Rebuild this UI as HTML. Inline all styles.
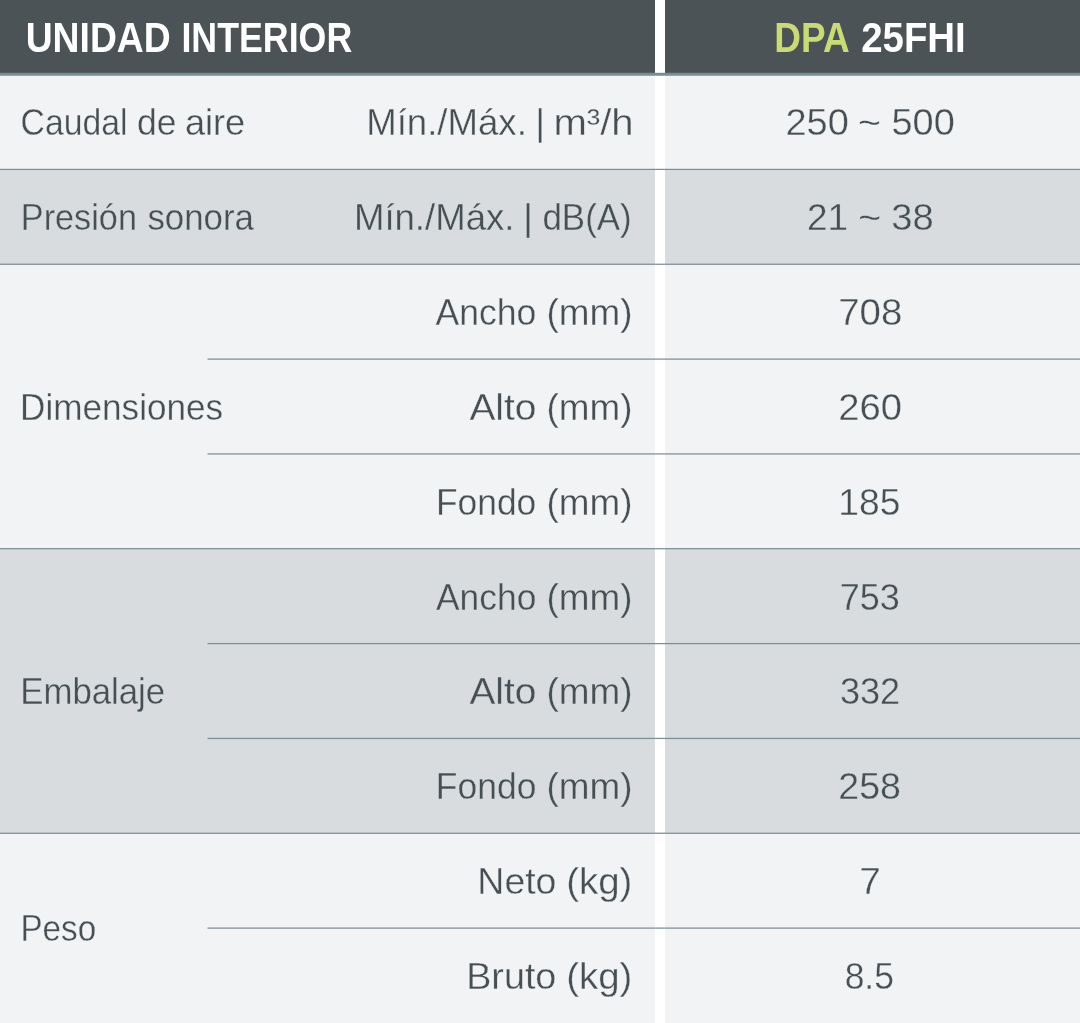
<!DOCTYPE html>
<html lang="es">
<head>
<meta charset="utf-8">
<title>Unidad interior DPA 25FHI</title>
<style>
html,body{margin:0;padding:0;background:#fff}
body{width:1080px;height:1023px;overflow:hidden}
svg{display:block}
text{font-family:"Liberation Sans",Arial,sans-serif;fill:#465054}
</style>
</head>
<body>
<svg width="1080" height="1023" viewBox="0 0 1080 1023">
<!-- backgrounds -->
<rect x="0" y="0" width="1080" height="1023" fill="#f2f3f5"/>
<rect x="0" y="169.4" width="1080" height="94.84" fill="#d8dcdf"/>
<rect x="0" y="548.7" width="1080" height="284.55" fill="#d8dcdf"/>
<rect x="655" y="0" width="10" height="1023" fill="#ffffff"/>
<rect x="0" y="0" width="655" height="73" fill="#4b5357"/>
<rect x="665" y="0" width="415" height="73" fill="#4b5357"/>
<rect x="0" y="72.8" width="1080" height="2.95" fill="#778d94"/>
<!-- row separators -->
<rect x="0" y="168.78" width="1080" height="1.25" fill="#7a8f97"/>
<rect x="0" y="263.62" width="1080" height="1.25" fill="#7a8f97"/>
<rect x="0" y="548.08" width="1080" height="1.25" fill="#7a8f97"/>
<rect x="0" y="832.63" width="1080" height="1.25" fill="#7a8f97"/>
<rect x="207.5" y="358.48" width="872.5" height="1.25" fill="#7a8f97"/>
<rect x="207.5" y="453.3" width="872.5" height="1.25" fill="#7a8f97"/>
<rect x="207.5" y="642.98" width="872.5" height="1.25" fill="#7a8f97"/>
<rect x="207.5" y="737.8" width="872.5" height="1.25" fill="#7a8f97"/>
<rect x="207.5" y="927.48" width="872.5" height="1.25" fill="#7a8f97"/>
<!-- text -->
<text y="52.0" font-size="43" font-weight="bold"><tspan x="25.7" textLength="144.94" lengthAdjust="spacingAndGlyphs" style="fill:#ffffff">UNIDAD</tspan> <tspan x="181.45" textLength="170.76" lengthAdjust="spacingAndGlyphs" style="fill:#ffffff">INTERIOR</tspan></text>
<text y="52.0" font-size="43" font-weight="bold"><tspan x="774.3" textLength="74.03" lengthAdjust="spacingAndGlyphs" style="fill:#cadb73">DPA</tspan> <tspan x="861.13" textLength="104.69" lengthAdjust="spacingAndGlyphs" style="fill:#ffffff">25FHI</tspan></text>
<text y="134.7" font-size="37.6" stroke="#f2f3f5" stroke-width="0.35"><tspan x="20.57" textLength="106.9" lengthAdjust="spacingAndGlyphs">Caudal</tspan> <tspan x="137.1" textLength="39.5" lengthAdjust="spacingAndGlyphs">de</tspan> <tspan x="184.91" textLength="60.33" lengthAdjust="spacingAndGlyphs">aire</tspan></text>
<text y="134.7" font-size="37.6" stroke="#f2f3f5" stroke-width="0.35"><tspan x="366.19" textLength="160.62" lengthAdjust="spacingAndGlyphs">Mín./Máx.</tspan> <tspan x="535.28" textLength="9.92" lengthAdjust="spacingAndGlyphs">|</tspan> <tspan x="553.46" textLength="80.2" lengthAdjust="spacingAndGlyphs">m³/h</tspan></text>
<text y="134.7" font-size="37.6" stroke="#f2f3f5" stroke-width="0.35"><tspan x="785.4" textLength="63.39" lengthAdjust="spacingAndGlyphs">250</tspan> <tspan x="858.14" textLength="22.96" lengthAdjust="spacingAndGlyphs">~</tspan> <tspan x="891.49" textLength="63.25" lengthAdjust="spacingAndGlyphs">500</tspan></text>
<text y="230" font-size="37.6" stroke="#d8dcdf" stroke-width="0.35"><tspan x="20.82" textLength="116.13" lengthAdjust="spacingAndGlyphs">Presión</tspan> <tspan x="147.46" textLength="106.49" lengthAdjust="spacingAndGlyphs">sonora</tspan></text>
<text y="230" font-size="37.6" stroke="#d8dcdf" stroke-width="0.35"><tspan x="353.95" textLength="160.46" lengthAdjust="spacingAndGlyphs">Mín./Máx.</tspan> <tspan x="522.92" textLength="10.1" lengthAdjust="spacingAndGlyphs">|</tspan> <tspan x="542.45" textLength="89.24" lengthAdjust="spacingAndGlyphs">dB(A)</tspan></text>
<text y="230" font-size="37.6" stroke="#d8dcdf" stroke-width="0.35"><tspan x="806.88" textLength="41.04" lengthAdjust="spacingAndGlyphs">21</tspan> <tspan x="858.22" textLength="22.89" lengthAdjust="spacingAndGlyphs">~</tspan> <tspan x="891.36" textLength="42.37" lengthAdjust="spacingAndGlyphs">38</tspan></text>
<text y="324.9" font-size="37.6" stroke="#f2f3f5" stroke-width="0.35"><tspan x="435.57" textLength="100.8" lengthAdjust="spacingAndGlyphs">Ancho</tspan> <tspan x="546.43" textLength="86.05" lengthAdjust="spacingAndGlyphs">(mm)</tspan></text>
<text y="324.9" font-size="37.6" stroke="#f2f3f5" stroke-width="0.35"><tspan x="838.2" textLength="64.04" lengthAdjust="spacingAndGlyphs">708</tspan></text>
<text y="420" font-size="37.6" stroke="#f2f3f5" stroke-width="0.35"><tspan x="20.05" textLength="203.09" lengthAdjust="spacingAndGlyphs">Dimensiones</tspan></text>
<text y="419.9" font-size="37.6" stroke="#f2f3f5" stroke-width="0.35"><tspan x="469.41" textLength="67.09" lengthAdjust="spacingAndGlyphs">Alto</tspan> <tspan x="546.43" textLength="86.05" lengthAdjust="spacingAndGlyphs">(mm)</tspan></text>
<text y="419.9" font-size="37.6" stroke="#f2f3f5" stroke-width="0.35"><tspan x="838.36" textLength="63.75" lengthAdjust="spacingAndGlyphs">260</tspan></text>
<text y="514.7" font-size="37.6" stroke="#f2f3f5" stroke-width="0.35"><tspan x="436.04" textLength="100.2" lengthAdjust="spacingAndGlyphs">Fondo</tspan> <tspan x="546.43" textLength="86.05" lengthAdjust="spacingAndGlyphs">(mm)</tspan></text>
<text y="514.7" font-size="37.6" stroke="#f2f3f5" stroke-width="0.35"><tspan x="838.37" textLength="62.09" lengthAdjust="spacingAndGlyphs">185</tspan></text>
<text y="609.7" font-size="37.6" stroke="#d8dcdf" stroke-width="0.35"><tspan x="435.99" textLength="100.33" lengthAdjust="spacingAndGlyphs">Ancho</tspan> <tspan x="546.43" textLength="85.99" lengthAdjust="spacingAndGlyphs">(mm)</tspan></text>
<text y="609.7" font-size="37.6" stroke="#d8dcdf" stroke-width="0.35"><tspan x="839.74" textLength="60.13" lengthAdjust="spacingAndGlyphs">753</tspan></text>
<text y="704.3" font-size="37.6" stroke="#d8dcdf" stroke-width="0.35"><tspan x="20.29" textLength="144.85" lengthAdjust="spacingAndGlyphs">Embalaje</tspan></text>
<text y="704.3" font-size="37.6" stroke="#d8dcdf" stroke-width="0.35"><tspan x="469.45" textLength="66.98" lengthAdjust="spacingAndGlyphs">Alto</tspan> <tspan x="546.43" textLength="85.99" lengthAdjust="spacingAndGlyphs">(mm)</tspan></text>
<text y="704.3" font-size="37.6" stroke="#d8dcdf" stroke-width="0.35"><tspan x="839.9" textLength="60.2" lengthAdjust="spacingAndGlyphs">332</tspan></text>
<text y="799.1" font-size="37.6" stroke="#d8dcdf" stroke-width="0.35"><tspan x="435.84" textLength="100.56" lengthAdjust="spacingAndGlyphs">Fondo</tspan> <tspan x="546.43" textLength="85.99" lengthAdjust="spacingAndGlyphs">(mm)</tspan></text>
<text y="799.1" font-size="37.6" stroke="#d8dcdf" stroke-width="0.35"><tspan x="838.33" textLength="62.6" lengthAdjust="spacingAndGlyphs">258</tspan></text>
<text y="941.1" font-size="37.6" stroke="#f2f3f5" stroke-width="0.35"><tspan x="20.47" textLength="75.67" lengthAdjust="spacingAndGlyphs">Peso</tspan></text>
<text y="894" font-size="37.6" stroke="#f2f3f5" stroke-width="0.35"><tspan x="477.36" textLength="79.09" lengthAdjust="spacingAndGlyphs">Neto</tspan> <tspan x="566.16" textLength="66.24" lengthAdjust="spacingAndGlyphs">(kg)</tspan></text>
<text y="894" font-size="37.6" stroke="#f2f3f5" stroke-width="0.35"><tspan x="859.17" textLength="21.58" lengthAdjust="spacingAndGlyphs">7</tspan></text>
<text y="988.7" font-size="37.6" stroke="#f2f3f5" stroke-width="0.35"><tspan x="466.16" textLength="90.21" lengthAdjust="spacingAndGlyphs">Bruto</tspan> <tspan x="566.16" textLength="66.24" lengthAdjust="spacingAndGlyphs">(kg)</tspan></text>
<text y="988.7" font-size="37.6" stroke="#f2f3f5" stroke-width="0.35"><tspan x="844.63" textLength="49.36" lengthAdjust="spacingAndGlyphs">8.5</tspan></text>
</svg>
</body>
</html>
